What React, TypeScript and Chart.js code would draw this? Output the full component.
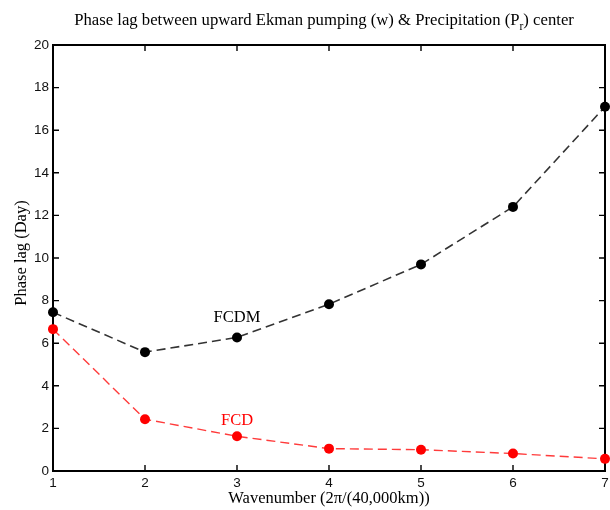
import React, { useEffect, useRef } from "react";
import { Chart, registerables } from "chart.js";

Chart.register(...registerables);

// Wavenumber (x) and phase lag in days for each model configuration
const wavenumbers = [1, 2, 3, 4, 5, 6, 7];
const fcdmLag = [7.45, 5.58, 6.27, 7.83, 9.7, 12.4, 17.1];
const fcdLag = [6.66, 2.43, 1.63, 1.05, 1.0, 0.82, 0.57];

const yMin = 0;
const yMax = 20;
const yStep = 2;

const titleHead = "Phase lag between upward Ekman pumping (w) & Precipitation (P";
const titleSub = "r";
const titleTail = ") center";
const xTitle = "Wavenumber (2\u03c0/(40,000km))";
const yTitle = "Phase lag (Day)";

// In-plot series labels, anchored in data coordinates
const seriesLabels = [
  { text: "FCDM", x: 3, y: 7.18, color: "#000000" },
  { text: "FCD", x: 3, y: 2.36, color: "#ff0000" },
];

const SERIF = "'Liberation Serif', 'Times New Roman', serif";
const SANS = "'Liberation Sans', Arial, sans-serif";

const framePlugin = {
  id: "matlabFrame",
  beforeDatasetsDraw(chart: any) {
    const { ctx, chartArea } = chart;
    const { left, right, top, bottom } = chartArea;
    const xs = chart.scales.x;
    const ys = chart.scales.y;
    const tick = 6;
    ctx.save();
    ctx.strokeStyle = "#000";
    ctx.lineWidth = 2;
    ctx.strokeRect(left, top, right - left, bottom - top);
    ctx.lineWidth = 1.4;
    ctx.beginPath();
    xs.ticks.forEach((t: any) => {
      const px = xs.getPixelForValue(t.value);
      ctx.moveTo(px, bottom);
      ctx.lineTo(px, bottom - tick);
      ctx.moveTo(px, top);
      ctx.lineTo(px, top + tick);
    });
    ys.ticks.forEach((t: any) => {
      const py = ys.getPixelForValue(t.value);
      ctx.moveTo(left, py);
      ctx.lineTo(left + tick, py);
      ctx.moveTo(right, py);
      ctx.lineTo(right - tick, py);
    });
    ctx.stroke();
    ctx.restore();
  },
  afterDraw(chart: any) {
    const { ctx, chartArea } = chart;
    const xs = chart.scales.x;
    const ys = chart.scales.y;
    ctx.save();
    ctx.fillStyle = "#000";
    ctx.textBaseline = "middle";

    // Title with subscript r
    const mainFont = `16.7px ${SERIF}`;
    const subFont = `11.5px ${SERIF}`;
    ctx.font = mainFont;
    const wHead = ctx.measureText(titleHead).width;
    const wTail = ctx.measureText(titleTail).width;
    ctx.font = subFont;
    const wSub = ctx.measureText(titleSub).width;
    const total = wHead + wSub + wTail;
    const cx = 324;
    const ty = 21;
    const x0 = cx - total / 2;
    ctx.textAlign = "left";
    ctx.font = mainFont;
    ctx.fillText(titleHead, x0, ty);
    ctx.font = subFont;
    ctx.fillText(titleSub, x0 + wHead, ty + 6);
    ctx.font = mainFont;
    ctx.fillText(titleTail, x0 + wHead + wSub, ty);

    // Axis titles
    ctx.textAlign = "center";
    ctx.font = `16.5px ${SERIF}`;
    ctx.fillText(xTitle, (chartArea.left + chartArea.right) / 2, 499);
    ctx.save();
    ctx.translate(22, (chartArea.top + chartArea.bottom) / 2 - 5);
    ctx.rotate(-Math.PI / 2);
    ctx.fillText(yTitle, 0, 0);
    ctx.restore();

    // Series labels
    seriesLabels.forEach((l) => {
      ctx.fillStyle = l.color;
      ctx.fillText(l.text, xs.getPixelForValue(l.x), ys.getPixelForValue(l.y));
    });
    ctx.restore();
  },
};

export default function App() {
  const canvasRef = useRef<HTMLCanvasElement | null>(null);

  useEffect(() => {
    document.body.style.margin = "0";
    const canvas = canvasRef.current;
    if (!canvas) return;
    const chart = new Chart(canvas, {
      type: "line",
      data: {
        datasets: [
          {
            label: "FCDM",
            data: wavenumbers.map((w, i) => ({ x: w, y: fcdmLag[i] })),
            borderColor: "#333333",
            backgroundColor: "#000000",
            borderWidth: 1.6,
            borderDash: [9, 5],
            pointRadius: 5,
            pointBorderWidth: 0,
            pointBackgroundColor: "#000000",
            tension: 0,
            clip: false as any,
          },
          {
            label: "FCD",
            data: wavenumbers.map((w, i) => ({ x: w, y: fcdLag[i] })),
            borderColor: "#ff3b3b",
            backgroundColor: "#ff0000",
            borderWidth: 1.4,
            borderDash: [9, 5],
            pointRadius: 5,
            pointBorderWidth: 0,
            pointBackgroundColor: "#ff0000",
            tension: 0,
            clip: false as any,
          },
        ],
      },
      plugins: [framePlugin],
      options: {
        responsive: false,
        animation: false,
        layout: { padding: { left: 0, right: 4, top: 45, bottom: 0 } },
        plugins: {
          legend: { display: false },
          title: { display: false },
          tooltip: { enabled: false },
        },
        scales: {
          x: {
            type: "linear",
            min: 1,
            max: 7,
            grid: { display: false, drawTicks: false },
            border: { display: false },
            ticks: {
              stepSize: 1,
              padding: 4,
              color: "#111",
              font: { family: SANS, size: 13.5 },
            },
            afterFit: (s: any) => {
              s.height = 39;
              s.paddingLeft = 0;
              s.paddingRight = 0;
            },
          },
          y: {
            type: "linear",
            min: yMin,
            max: yMax,
            grid: { display: false, drawTicks: false },
            border: { display: false },
            ticks: {
              stepSize: yStep,
              padding: 4,
              color: "#111",
              font: { family: SANS, size: 13.5 },
            },
            afterFit: (s: any) => {
              s.width = 53;
            },
          },
        },
      },
    });
    return () => chart.destroy();
  }, []);

  return (
    <div style={{ width: 610, height: 510 }}>
      <canvas ref={canvasRef} width={610} height={510} style={{ display: "block" }} />
    </div>
  );
}
